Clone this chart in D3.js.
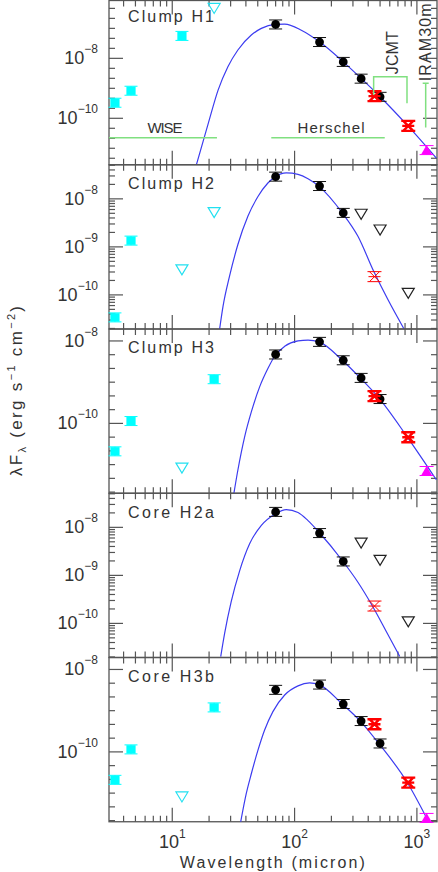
<!DOCTYPE html>
<html>
<head>
<meta charset="utf-8">
<script src="https://cdn.jsdelivr.net/npm/d3@7"></script>
<style>
  body { margin: 0; background: #fff; }
  svg { display: block; }
  text { font-family: "Liberation Sans", Arial, sans-serif; fill: #333; }
</style>
</head>
<body>
<svg id="chart" width="438" height="872"></svg>
<script>
// ---- data (wavelength in micron, lambda*F_lambda in erg s^-1 cm^-2) ----
const panelNames = ["Clump H1", "Clump H2", "Clump H3", "Core H2a", "Core H3b"];

const wiseWl = [3.4, 4.6, 12, 22];
const herschelWl = [70, 160, 250, 350, 500];
const jcmtWl = [450, 850];
const iramWl = 1200;

const wiseFlux = [
  [3.3e-10, 8.3e-10, 5.6e-8, 4.8e-7],
  [3.4e-11, 1.35e-9, 3.4e-10, 5.3e-9],
  [2.1e-11, 1.14e-10, 8.5e-12, 1.18e-9],
  [null, null, null, null],
  [2.1e-11, 1.15e-10, 8.3e-12, 1.2e-9]
];
const wiseUpper = [
  [0, 0, 0, 1],
  [0, 0, 1, 1],
  [0, 0, 1, 0],
  [0, 0, 0, 0],
  [0, 0, 1, 0]
];
const herschelFlux = [
  [1.35e-7, 3.5e-8, 7.6e-9, 2.1e-9, 5.2e-10],
  [2.9e-8, 1.85e-8, 5.1e-9, 4.9e-9, 2.3e-9],
  [4.7e-9, 9.5e-9, 3.4e-9, 1.27e-9, 3.9e-10],
  [2.1e-8, 7.6e-9, 1.95e-9, 4.8e-9, 2.1e-9],
  [3.2e-9, 4.3e-9, 1.45e-9, 5.6e-10, 1.6e-10]
];
const herschelUpper = [
  [0, 0, 0, 0, 0],
  [0, 0, 0, 1, 1],
  [0, 0, 0, 0, 0],
  [0, 0, 0, 1, 1],
  [0, 0, 0, 0, 0]
];
const jcmtFlux = [
  [5.5e-10, 5.6e-11],
  [2.4e-10, 1.1e-10],
  [4.6e-10, 4.6e-11],
  [2.3e-10, 1.1e-10],
  [4.7e-10, 1.8e-11]
];
const jcmtUpper = [[0, 0], [0, 1], [0, 0], [0, 1], [0, 0]];
const iramFlux = [8.7e-12, null, 7.0e-12, null, 2.5e-12];

// greybody fits
const fitWl = [
  [15.8, 19.7, 23.7, 28.5, 34.4, 44.3, 53.5, 69.5, 83, 113.5, 160, 250, 350, 500, 830, 1442],
  [24.4, 26.0, 29.4, 34.4, 41.6, 50.2, 60.5, 69.5, 85.5, 106.7, 128.8, 158.5, 245.5, 329.6, 443.6, 580.7, 785.2],
  [31.9, 34.4, 39.1, 44.3, 51.9, 60.5, 69.5, 83, 106.7, 128.8, 158.5, 245.5, 344.4, 489.8, 829.8, 1442],
  [24.9, 26.8, 30.3, 35.6, 43.0, 53.5, 69.5, 85.5, 106.7, 128.8, 158.5, 245.5, 329.6, 437.5, 562, 724.4],
  [36.2, 40.3, 44.3, 50.2, 56.9, 66.5, 83, 106.7, 132.7, 158.5, 245.5, 344.4, 489.8, 829.8, 1233]
];
const fitFlux = [
  [2.95e-12, 6.76e-11, 8.7e-10, 5.25e-9, 1.9e-8, 6.0e-8, 1.0e-7, 1.35e-7, 1.38e-7, 8.7e-8, 3.55e-8, 7.6e-9, 2.14e-9, 5.25e-10, 6.0e-11, 4.7e-12],
  [1.95e-11, 5.75e-11, 2.45e-10, 1.12e-9, 4.4e-9, 1.12e-8, 2.14e-8, 2.9e-8, 3.47e-8, 3.24e-8, 2.63e-8, 1.82e-8, 5.1e-9, 1.66e-9, 3.1e-10, 7.9e-11, 1.95e-11],
  [2.0e-12, 7.4e-12, 4.8e-11, 1.9e-10, 7.8e-10, 2.14e-9, 4.5e-9, 7.4e-9, 1.0e-8, 1.05e-8, 9.5e-9, 3.4e-9, 1.26e-9, 4.1e-10, 4.8e-11, 4.3e-12],
  [2.04e-11, 6.2e-11, 2.8e-10, 1.26e-9, 4.6e-9, 1.1e-8, 1.9e-8, 2.34e-8, 2.04e-8, 1.38e-8, 7.9e-9, 2.04e-9, 7.2e-10, 2.2e-10, 6.8e-11, 2.04e-11],
  [1.95e-12, 9.8e-12, 2.95e-11, 1.1e-10, 3.4e-10, 9.5e-10, 2.4e-9, 4.0e-9, 4.7e-9, 4.3e-9, 1.45e-9, 5.6e-10, 1.58e-10, 1.86e-11, 2.14e-12]
];

// axes
const xDomain = [3.04, 1460];
const yDomains = [
  [2.82e-12, 8.5e-7],
  [1.95e-11, 5.13e-8],
  [2.02e-12, 1.95e-8],
  [1.95e-11, 5.13e-8],
  [2.02e-12, 1.95e-8]
];
const yTickStyle = ["third", "decade", "third", "decade", "third"];
const yLabelExps = [[-8, -10], [-8, -9, -10], [-8, -10], [-8, -9, -10], [-8, -10]];
const xLabelExps = [1, 2, 3];

// instrument annotations (panel 1)
const wiseBandEnd = 23.2;
const herschelBand = [64.5, 546];
const bandLevel = 2.25e-11;
const jcmtBracketWl = [443, 830];
const jcmtBracketFlux = [2.44e-9, 6.0e-10, 3.2e-10]; // top, left leg, right leg
const iramBarWl = 1180;
const iramBarFlux = [4.9e-11, 1.47e-9];

// ---- layout ----
const plotLeft = 109, plotRight = 437;
const panelTop0 = 0.5, panelH = 164.25;
const axisColor = "#555", green = "#80e080", cyan = "#00ffff", blue = "#3c3cf0";
const thinJcmt = new Set([1, 3]);

const svg = d3.select("#chart");
const xScale = d3.scaleLog().domain(xDomain).range([plotLeft, plotRight]);
const isDecade = v => Math.abs(Math.log10(v) - Math.round(Math.log10(v))) < 1e-6;
const xTicks = xScale.ticks();

panelNames.forEach((name, i) => {
  const top = panelTop0 + i * panelH, bottom = top + panelH;
  const y = d3.scaleLog().domain(yDomains[i]).range([bottom, top]);
  const g = svg.append("g");

  svg.append("clipPath").attr("id", "clip" + i)
    .append("rect")
    .attr("x", plotLeft).attr("y", top)
    .attr("width", plotRight - plotLeft).attr("height", panelH);

  // frame
  g.append("rect")
    .attr("x", plotLeft).attr("y", top)
    .attr("width", plotRight - plotLeft).attr("height", panelH)
    .attr("fill", "none").attr("stroke", axisColor).attr("stroke-width", 1.3);

  // x ticks, top and bottom
  xTicks.forEach(v => {
    const len = isDecade(v) ? 14 : 6;
    const x = xScale(v);
    g.append("line").attr("x1", x).attr("x2", x).attr("y1", bottom).attr("y2", bottom - len)
      .attr("stroke", axisColor).attr("stroke-width", 1.2);
    g.append("line").attr("x1", x).attr("x2", x).attr("y1", top).attr("y2", top + len)
      .attr("stroke", axisColor).attr("stroke-width", 1.2);
  });

  // y ticks, left and right
  let yTicks;
  if (yTickStyle[i] === "third") {
    const [lo, hi] = y.domain().map(Math.log10);
    yTicks = d3.range(Math.ceil(lo * 3), Math.floor(hi * 3) + 1)
      .map(k => ({ v: Math.pow(10, k / 3), major: k % 6 === 0 }));
  } else {
    yTicks = y.ticks().map(v => ({ v, major: isDecade(v) }));
  }
  yTicks.forEach(t => {
    const len = t.major ? 14 : 6;
    const yy = y(t.v);
    g.append("line").attr("x1", plotLeft).attr("x2", plotLeft + len).attr("y1", yy).attr("y2", yy)
      .attr("stroke", axisColor).attr("stroke-width", 1.2);
    g.append("line").attr("x1", plotRight).attr("x2", plotRight - len).attr("y1", yy).attr("y2", yy)
      .attr("stroke", axisColor).attr("stroke-width", 1.2);
  });

  // y tick labels
  yLabelExps[i].forEach(e => {
    const t = g.append("text")
      .attr("x", 98).attr("y", y(Math.pow(10, e)) + 6)
      .attr("text-anchor", "end").attr("font-size", 18);
    t.append("tspan").text("10");
    t.append("tspan").attr("dy", -11).attr("font-size", 12).text("\u2212" + Math.abs(e));
  });

  // panel name
  g.append("text")
    .attr("x", 128).attr("y", top + (i === 0 ? 21.3 : 24.3))
    .attr("font-size", 16).attr("textLength", 86).attr("lengthAdjust", "spacing")
    .text(name);

  // fit curve
  const fitLine = d3.line()
    .x(d => xScale(d[0]))
    .y(d => y(d[1]))
    .curve(d3.curveMonotoneX);
  g.append("path")
    .datum(d3.zip(fitWl[i], fitFlux[i]))
    .attr("clip-path", `url(#clip${i})`)
    .attr("fill", "none").attr("stroke", blue).attr("stroke-width", 1.2)
    .attr("d", fitLine);

  // marker helpers
  const caps = (x, yy, color, w = 6.5, h = 4.5, sw = 1) => {
    g.append("path")
      .attr("d", `M${x - w},${yy - h}H${x + w}M${x - w},${yy + h}H${x + w}M${x},${yy - h}V${yy + h}`)
      .attr("stroke", color).attr("stroke-width", sw).attr("fill", "none");
  };
  const triDown = (x, yy, color) => {
    g.append("path")
      .attr("d", `M${x - 6},${yy - 4.5}L${x + 6},${yy - 4.5}L${x},${yy + 5.5}Z`)
      .attr("fill", "none").attr("stroke", color).attr("stroke-width", 1.2);
  };

  // WISE
  wiseWl.forEach((wl, k) => {
    const v = wiseFlux[i][k];
    if (v == null) return;
    const x = xScale(wl), yy = y(v);
    if (wiseUpper[i][k]) { triDown(x, yy, "#22e0f0"); return; }
    caps(x, yy, cyan);
    g.append("rect").attr("x", x - 4.6).attr("y", yy - 4.2).attr("width", 9.2).attr("height", 8.4)
      .attr("fill", cyan);
  });

  // Herschel
  herschelWl.forEach((wl, k) => {
    const x = xScale(wl), yy = y(herschelFlux[i][k]);
    if (herschelUpper[i][k]) { triDown(x, yy, "#222"); return; }
    caps(x, yy, "#111");
    g.append("circle").attr("cx", x).attr("cy", yy).attr("r", 4.4).attr("fill", "#000");
  });

  // JCMT
  jcmtWl.forEach((wl, k) => {
    const x = xScale(wl), yy = y(jcmtFlux[i][k]);
    if (jcmtUpper[i][k]) { triDown(x, yy, "#222"); return; }
    const sw = thinJcmt.has(i) ? 1 : 2.4;
    g.append("path")
      .attr("d", `M${x - 7},${yy - 5}H${x + 7}M${x - 7},${yy + 5}H${x + 7}` +
        `M${x - 5},${yy - 5}L${x + 5},${yy + 5}M${x + 5},${yy - 5}L${x - 5},${yy + 5}` +
        `M${x - 6},${yy}H${x + 6}`)
      .attr("stroke", "#ff0000").attr("stroke-width", sw).attr("fill", "none");
  });

  // IRAM 30m
  if (iramFlux[i] != null) {
    const x = xScale(iramWl), yy = y(iramFlux[i]);
    caps(x, yy, "#ff00ff", 7, 4.5, 1);
    g.append("path")
      .attr("d", `M${x - 5.5},${yy + 4.5}L${x + 5.5},${yy + 4.5}L${x},${yy - 5}Z`)
      .attr("fill", "#ff00ff");
  }

  // instrument annotations on the first panel
  if (i === 0) {
    const yb = y(bandLevel);
    g.append("line").attr("x1", plotLeft).attr("x2", xScale(wiseBandEnd)).attr("y1", yb).attr("y2", yb)
      .attr("stroke", green).attr("stroke-width", 1.5);
    g.append("text").attr("x", (plotLeft + xScale(wiseBandEnd)) / 2 + 2).attr("y", yb - 5)
      .attr("text-anchor", "middle").attr("font-size", 15)
      .attr("textLength", 35).attr("lengthAdjust", "spacing").text("WISE");
    g.append("line").attr("x1", xScale(herschelBand[0])).attr("x2", xScale(herschelBand[1]))
      .attr("y1", yb).attr("y2", yb).attr("stroke", green).attr("stroke-width", 1.5);
    g.append("text").attr("x", (xScale(herschelBand[0]) + xScale(herschelBand[1])) / 2 + 3).attr("y", yb - 5)
      .attr("text-anchor", "middle").attr("font-size", 15)
      .attr("textLength", 67).attr("lengthAdjust", "spacing").text("Herschel");

    const jx0 = xScale(jcmtBracketWl[0]), jx1 = xScale(jcmtBracketWl[1]);
    const jt = y(jcmtBracketFlux[0]);
    g.append("path")
      .attr("d", `M${jx0},${y(jcmtBracketFlux[1])}V${jt}H${jx1}V${y(jcmtBracketFlux[2])}`)
      .attr("fill", "none").attr("stroke", green).attr("stroke-width", 1.5);
    g.append("text")
      .attr("transform", `translate(${(jx0 + jx1) / 2 + 7.5},${jt - 24}) rotate(-90)`)
      .attr("text-anchor", "middle").attr("font-size", 16)
      .attr("textLength", 43).attr("lengthAdjust", "spacing").text("JCMT");

    const ix = xScale(iramBarWl), iTop = y(iramBarFlux[1]);
    g.append("path")
      .attr("d", `M${ix},${y(iramBarFlux[0])}V${iTop}M${ix - 3},${iTop}H${ix + 3}`)
      .attr("fill", "none").attr("stroke", green).attr("stroke-width", 1.5);
    g.append("text")
      .attr("transform", `translate(${ix + 5.5},${iTop - 41}) rotate(-90)`)
      .attr("text-anchor", "middle").attr("font-size", 16)
      .attr("textLength", 78).attr("lengthAdjust", "spacing").text("IRAM30m");
  }

  // x tick labels only under the last panel
  if (i === panelNames.length - 1) {
    xLabelExps.forEach(e => {
      const t = g.append("text")
        .attr("x", xScale(Math.pow(10, e))).attr("y", bottom + 26.5)
        .attr("text-anchor", "middle").attr("font-size", 18);
      t.append("tspan").text("10");
      t.append("tspan").attr("dy", -10).attr("font-size", 12).text(e);
    });
  }
});

// axis titles
svg.append("text")
  .attr("x", 272.3).attr("y", 868)
  .attr("text-anchor", "middle").attr("font-size", 16)
  .attr("textLength", 185).attr("lengthAdjust", "spacing")
  .text("Wavelength (micron)");

const yTitle = svg.append("text")
  .attr("transform", "translate(22,391) rotate(-90)")
  .attr("text-anchor", "middle").attr("font-size", 17)
  .attr("textLength", 170).attr("lengthAdjust", "spacing");
yTitle.append("tspan").text("\u03bbF");
yTitle.append("tspan").attr("dy", 4).attr("font-size", 11).text("\u03bb");
yTitle.append("tspan").attr("dy", -4).text(" (erg s");
yTitle.append("tspan").attr("dy", -7).attr("font-size", 11).text("\u22121");
yTitle.append("tspan").attr("dy", 7).text(" cm");
yTitle.append("tspan").attr("dy", -7).attr("font-size", 11).text("\u22122");
yTitle.append("tspan").attr("dy", 7).text(")");
</script>
</body>
</html>
